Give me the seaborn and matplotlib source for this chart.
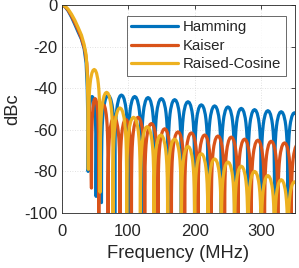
import numpy as np
import pandas as pd
import matplotlib
matplotlib.use("Agg")
import matplotlib.pyplot as plt
import seaborn as sns

# ---------------- data ----------------
series_names = ["Hamming", "Kaiser", "Raised-Cosine"]

# main lobes: (frequency MHz, dBc)
hamming_main_f = [0, 5, 10, 15, 20, 25, 30, 34, 37, 38.7, 39.5, 40]
hamming_main_db = [0, -0.7, -2.8, -5.8, -9.3, -13.0, -16.5, -21, -28, -40, -55, -80]
kaiser_main_f = [0, 5, 10, 15, 20, 25, 30, 35, 38, 40.2, 42.5, 44, 45]
kaiser_main_db = [0, -0.6, -2.5, -5.2, -8.5, -12.0, -16.0, -21.5, -28, -40, -55, -70, -88]
rc_main_f = [0, 5, 10, 15, 20, 25, 30, 34, 37, 38.7, 39.5, 40.3]
rc_main_db = [0, -0.5, -2.0, -4.4, -7.3, -10.8, -14.5, -19, -24, -33, -45, -79]

# side lobes: null frequencies, depth at each null, peak level of each lobe
hamming_nulls = [40, 52, 60, 80, 100, 120, 140, 160, 180, 200, 220, 240, 260, 280, 300, 320, 340, 360]
hamming_null_db = [-80, -92, -95] + [-140] * 15
hamming_peaks = [-44, -50, -43.5, -43.3, -44, -44.5, -45, -45.5, -46.5, -48, -48.5, -49,
                 -49.7, -50.3, -50.8, -51.3, -51.8]

kaiser_nulls = [45, 56, 70, 88, 105, 125, 145, 165, 185, 205, 225, 245, 265, 285, 305, 325, 345, 365]
kaiser_null_db = [-88] + [-140] * 17
kaiser_peaks = [-45, -48, -54, -55, -54, -57, -59.5, -61, -61.5, -62.5, -63, -63.5, -64.5,
                -65, -65.5, -66.3, -67]

rc_nulls = [40.3, 58, 77.5, 98, 118.5, 139, 159.5, 180, 200, 220, 240, 260, 280, 300, 320, 340, 360]
rc_null_db = [-79, -90] + [-140] * 15
rc_peaks = [-31, -42, -49.5, -54, -58.5, -62.5, -64.5, -68, -71.5, -74, -75.5, -77.5, -80,
            -82, -84, -85]

x_ticks = [0, 100, 200, 300]
y_ticks = [-100, -80, -60, -40, -20, 0]

# arch profile of one side lobe (fraction across lobe, dB below lobe peak)
lobe_frac = [0.01, 0.03, 0.06, 0.1, 0.15, 0.2, 0.3, 0.4, 0.5, 0.6, 0.7, 0.8, 0.85, 0.9, 0.94, 0.97, 0.99]
lobe_rel = [-30.1, -20.5, -14.5, -10.2, -6.9, -4.6, -1.8, -0.4, 0, -0.4, -1.8, -4.6, -6.9, -10.2,
            -14.5, -20.5, -30.1]


def build(main_f, main_db, nulls, null_db, peaks):
    f = list(main_f[:-1])
    d = list(main_db[:-1])
    for i, pk in enumerate(peaks):
        a, b = nulls[i], nulls[i + 1]
        f.append(a)
        d.append(null_db[i])
        for t, r in zip(lobe_frac, lobe_rel):
            f.append(a + t * (b - a))
            d.append(pk + r)
    f.append(nulls[-1])
    d.append(null_db[-1])
    return f, d


frames = []
for name, args in zip(series_names, [
        (hamming_main_f, hamming_main_db, hamming_nulls, hamming_null_db, hamming_peaks),
        (kaiser_main_f, kaiser_main_db, kaiser_nulls, kaiser_null_db, kaiser_peaks),
        (rc_main_f, rc_main_db, rc_nulls, rc_null_db, rc_peaks)]):
    f, d = build(*args)
    frames.append(pd.DataFrame({"Frequency": f, "dBc": d, "filter": name}))
df = pd.concat(frames, ignore_index=True)

# ---------------- styling ----------------
sns.set_style("white")
plt.rcParams["font.family"] = ["Liberation Sans", "DejaVu Sans"]
plt.rcParams["axes.unicode_minus"] = False

palette = {"Hamming": "#0072BD", "Kaiser": "#D95319", "Raised-Cosine": "#EDB120"}

fig = plt.figure(figsize=(2.99, 2.68), dpi=100)
ax = fig.add_axes([61.5 / 299, 1 - 213 / 268, 233 / 299, 208 / 268])

sns.lineplot(data=df, x="Frequency", y="dBc", hue="filter", palette=palette,
             hue_order=series_names, sort=False, estimator=None,
             linewidth=2.3, ax=ax)

ax.set_xlim(0, 350)
ax.set_ylim(-100, 0)
ax.set_xticks(x_ticks)
ax.set_yticks(y_ticks)
ax.tick_params(axis="both", direction="in", length=3, width=0.6, colors="#262626",
               labelsize=12, top=True, right=True)
ax.tick_params(axis="x", pad=8)
ax.tick_params(axis="y", pad=3)
for lab in ax.get_xticklabels() + ax.get_yticklabels():
    lab.set_color("#262626")
for s in ax.spines.values():
    s.set_color("#262626")
    s.set_linewidth(0.6)
ax.grid(True, linestyle=(0, (1, 2)), color="#d8d8d8", linewidth=0.6)
ax.set_axisbelow(True)

ax.set_xlabel("Frequency (MHz)", fontsize=13.2, color="#262626", labelpad=4)
ax.set_ylabel("dBc", fontsize=13.2, color="#262626", labelpad=2)

leg = ax.legend(loc="upper right", bbox_to_anchor=((286 - 61.5) / 233, 1 - (16 - 5) / 208),
                borderaxespad=0, fontsize=10.8, frameon=True, fancybox=False,
                handlelength=3.1, handletextpad=0.35, labelspacing=0.3, borderpad=0.3)
leg.get_frame().set_edgecolor("#262626")
leg.get_frame().set_linewidth(0.6)
for line in leg.get_lines():
    line.set_linewidth(2.3)

fig.savefig("out.png", dpi=100)
